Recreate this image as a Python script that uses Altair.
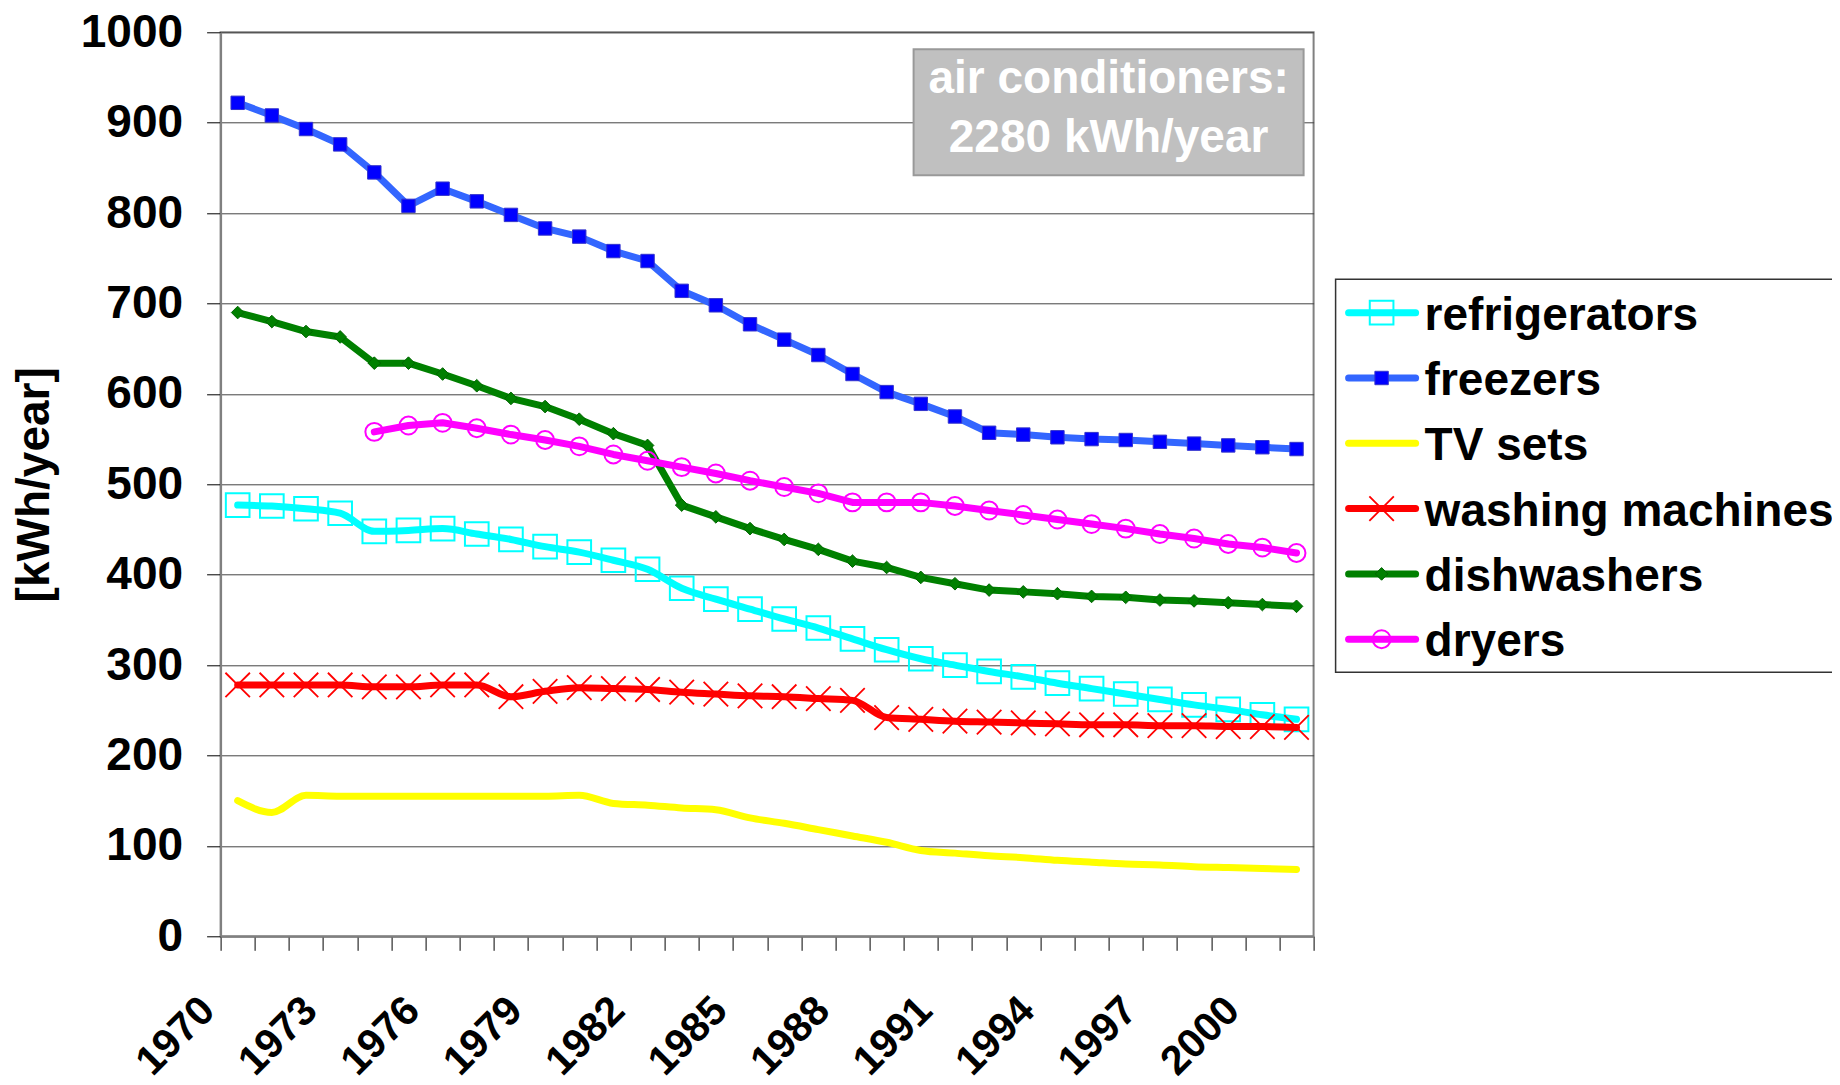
import altair as alt
import pandas as pd

# ---------------- data ----------------
years = list(range(1970, 2002))

refrigerators = [477, 476, 473, 468, 448, 449, 451, 445, 439, 431, 425, 416, 406, 385, 373, 362,
                 351, 341, 329, 317, 307, 300, 293, 287, 280, 274, 268, 262, 256, 251, 245, 240]
freezers = [922, 908, 893, 876, 845, 808, 827, 813, 798, 783, 774, 758, 747, 714, 698, 677,
            660, 643, 622, 602, 589, 575, 557, 555, 552, 550, 549, 547, 545, 543, 541, 539]
tv_sets = [150, 137, 156, 155, 155, 155, 155, 155, 155, 155, 156, 147, 145, 142, 140, 131,
           125, 118, 111, 104, 95, 92, 89, 87, 84, 82, 80, 79, 77, 76, 75, 74]
washing_machines = [278, 278, 278, 278, 276, 276, 278, 278, 265, 271, 275, 274, 273, 270, 268, 266,
                    265, 263, 261, 242, 240, 238, 237, 236, 235, 234, 234, 233, 233, 232, 232, 231]
dishwashers = [690, 680, 669, 663, 634, 634, 622, 609, 595, 586, 572, 556, 543, 477, 464, 451,
               439, 428, 415, 408, 397, 390, 383, 381, 379, 376, 375, 372, 371, 369, 367, 365]
dryers = [None, None, None, None, 558, 565, 568, 562, 555, 549, 542, 533, 526, 519, 512, 504,
          497, 490, 480, 480, 480, 476, 471, 466, 461, 456, 451, 445, 440, 434, 430, 424]

series_names = ["refrigerators", "freezers", "TV sets", "washing machines", "dishwashers", "dryers"]
series_values = [refrigerators, freezers, tv_sets, washing_machines, dishwashers, dryers]

annotation_lines = ["air conditioners:", "2280 kWh/year"]
y_ticks = list(range(0, 1001, 100))

rows = []
for name, vals in zip(series_names, series_values):
    for yr, v in zip(years, vals):
        if v is not None:
            rows.append({"year": yr, "value": v, "series": name})
df = pd.DataFrame(rows)

# ---------------- styling ----------------
FONT = "Liberation Sans"
FS = 46
W, H = 1093, 904
LW = 7
XPATH = "M-1,-1L1,1M-1,1L1,-1"

styles = {
    "refrigerators": dict(color="#00FFFF", interp="monotone",
                          marker=dict(shape="square", filled=False, size=560, strokeWidth=2,
                                      color="#00FFFF", opacity=1)),
    "freezers": dict(color="#3366FF", interp="linear",
                     marker=dict(shape="square", filled=True, size=180, color="#0000FF",
                                 stroke="#3333CC", strokeWidth=1, opacity=1)),
    "TV sets": dict(color="#FFFF00", interp="monotone", marker=None),
    "washing machines": dict(color="#FF0000", interp="monotone",
                             marker=dict(shape=XPATH, filled=False, size=600, strokeWidth=1.8,
                                         color="#FF0000", opacity=1)),
    "dishwashers": dict(color="#008000", interp="linear",
                        marker=dict(shape="diamond", filled=True, size=160, color="#008000",
                                    stroke="#006400", strokeWidth=1, opacity=1)),
    "dryers": dict(color="#FF00FF", interp="linear",
                   marker=dict(shape="circle", filled=False, size=320, strokeWidth=2,
                               color="#FF00FF", opacity=1)),
}

x_tick_values = [1969.5 + k for k in range(len(years) + 1)]
label_expr = ("((datum.value - 1969.5) % 3 == 0 && datum.value < 2000) ? "
              "'' + (datum.value + 0.5) : ''")

x_enc = alt.X(
    "year:Q",
    scale=alt.Scale(domain=[1969.5, 2001.5], nice=False, zero=False),
    axis=alt.Axis(
        values=x_tick_values, labelExpr=label_expr, title=None, grid=False,
        labelAngle=-45, labelAlign="right", labelBaseline="middle",
        labelOffset=-12.6, labelPadding=53.5, tickSize=14, labelOverlap=False,
        labelFlush=False, labelBound=False, labelFontSize=41,
    ),
)
y_enc = alt.Y(
    "value:Q",
    scale=alt.Scale(domain=[0, 1000], nice=False),
    axis=alt.Axis(
        values=y_ticks, format="d", title="[kWh/year]", grid=True, tickSize=14,
        labelPadding=24, titleAngle=-90, titleX=-186, titleY=H / 2,
        titleAlign="center", titleBaseline="middle",
    ),
)

one = pd.DataFrame({"k": [0]})
layers = []

# annotation box
layers.append(
    alt.Chart(one).mark_rect(fill="#C0C0C0", stroke="#999999", strokeWidth=2).encode(
        x=alt.value(693), x2=alt.value(1083), y=alt.value(17), y2=alt.value(143)
    )
)
for line, yb in zip(annotation_lines, [61, 120]):
    layers.append(
        alt.Chart(one).mark_text(
            text=line, font=FONT, fontSize=FS, fontWeight="bold", color="white",
            align="center", baseline="alphabetic",
        ).encode(x=alt.value(888), y=alt.value(yb))
    )

# data series
for name in series_names:
    st = styles[name]
    sub = df[df["series"] == name]
    layers.append(
        alt.Chart(sub).mark_line(
            color=st["color"], strokeWidth=LW, interpolate=st["interp"],
            strokeCap="round", strokeJoin="round",
        ).encode(x=x_enc, y=y_enc)
    )
    if st["marker"] is not None:
        layers.append(
            alt.Chart(sub).mark_point(**st["marker"]).encode(x=x_enc, y=y_enc)
        )

# legend
layers.append(
    alt.Chart(one).mark_rect(fill="white", stroke="#333333", strokeWidth=1.5).encode(
        x=alt.value(1115), x2=alt.value(1700), y=alt.value(247), y2=alt.value(640)
    )
)
for i, name in enumerate(series_names):
    st = styles[name]
    yc = 280.4 + i * 65.3
    layers.append(
        alt.Chart(one).mark_rule(color=st["color"], strokeWidth=LW, strokeCap="round").encode(
            x=alt.value(1128), x2=alt.value(1195), y=alt.value(yc)
        )
    )
    if st["marker"] is not None:
        layers.append(
            alt.Chart(one).mark_point(**st["marker"]).encode(
                x=alt.value(1161), y=alt.value(yc)
            )
        )
    layers.append(
        alt.Chart(one).mark_text(
            text=name, font=FONT, fontSize=FS, fontWeight="bold", color="black",
            align="left", baseline="alphabetic",
        ).encode(x=alt.value(1204), y=alt.value(yc + 17))
    )

chart = (
    alt.layer(*layers)
    .properties(
        width=W, height=H,
        autosize=alt.AutoSizeParams(type="none"),
        padding={"left": 212.6, "top": 24.3, "right": 1824 - 212.6 - W,
                 "bottom": 1069 - 24.3 - H},
        background="white",
    )
    .configure_view(stroke="#808080", strokeWidth=2)
    .configure_axis(
        labelFont=FONT, labelFontSize=FS, labelFontWeight="bold", labelColor="black",
        titleFont=FONT, titleFontSize=FS, titleFontWeight="bold", titleColor="black",
        domainColor="#808080", domainWidth=2, tickColor="#000000", tickWidth=1,
        gridColor="#444444", gridWidth=1,
    )
)

chart.save("out.html", embed_options={"renderer": "svg", "actions": False})
